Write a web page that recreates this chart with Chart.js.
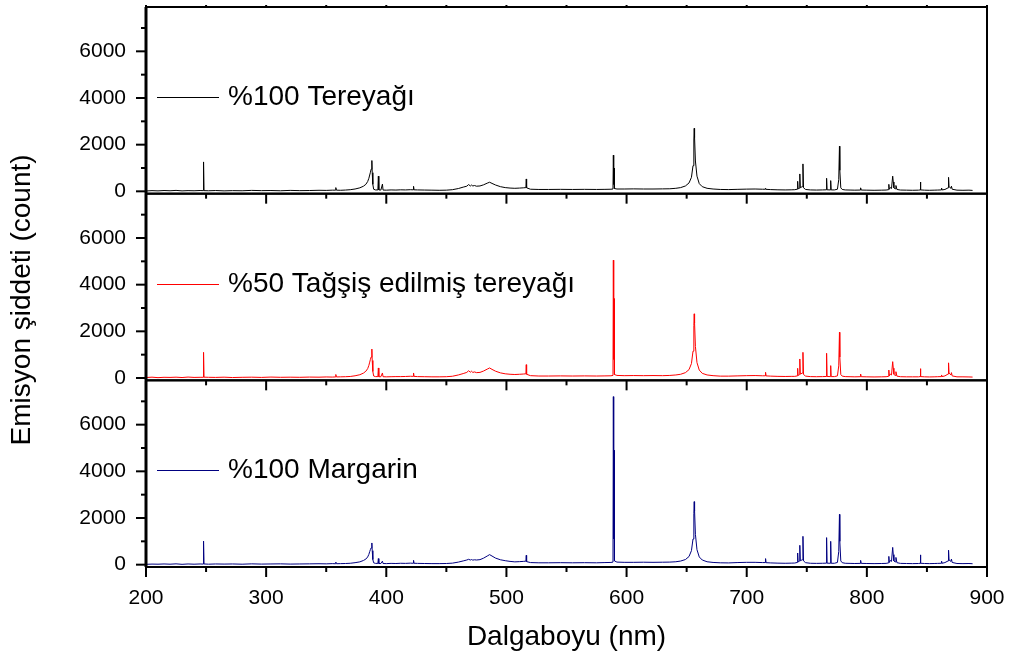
<!DOCTYPE html>
<html>
<head>
<meta charset="utf-8">
<script src="https://cdn.jsdelivr.net/npm/chart.js@4"></script>
<style>
  body { margin: 0; background: #fff; }
  #kutu { width: 1013px; height: 660px; }
</style>
</head>
<body>
<div id="kutu"><canvas id="myChart"></canvas></div>
<script>
// dalgaboyu (nm)
var dalgaboyu = [
  200, 205, 210, 215, 220, 225, 230, 235, 240, 245, 247.5, 247.9, 248.3,
  252, 258, 265, 272, 280, 288, 296, 304, 312, 320, 328, 336, 344, 350, 355,
  357.5, 358, 358.5, 362, 366, 370, 374, 378, 381, 383, 384.5, 385.5, 386.2, 386.8, 387.4, 388.0, 388.3, 388.8,
  389.5, 391, 393.0, 393.4, 393.8, 395.5, 396.8, 397.3, 400, 404, 408, 412, 416, 420, 422.3, 422.7,
  423.1, 426, 432, 438, 444, 450, 455, 460, 464, 467, 468.5, 470, 471, 472, 473.5, 475, 478, 481, 484, 486, 488, 491,
  495, 499, 503, 507, 511, 514, 516.2, 516.5, 516.8, 520, 527,
  535, 545, 555, 565, 575, 582, 587, 588.7, 589.0, 589.3, 589.6, 589.9, 592,
  598, 606, 614, 622, 630, 636, 641, 645, 649, 652, 654, 655.3, 656.0, 656.3, 656.6, 657.3, 658.6, 660.5, 663, 667,
  672, 678, 685, 692, 700, 707, 713, 715.3, 715.7, 716.1, 720, 726, 732, 737,
  740, 742.0, 742.4, 742.8, 743.8, 744.2, 744.6, 746.3, 746.8, 747.3, 749,
  753, 758, 763, 766.1, 766.5, 766.9, 769.5, 769.9, 770.3, 773, 775.5, 776.6, 777.2, 777.5, 778.3,
  779.5, 782, 786, 790, 794.3, 794.8, 795.3, 800, 806, 812, 816, 817.9, 818.3, 818.7, 819.5, 820.5, 821.5, 822.0, 822.5, 823.5, 824.2,
  825, 828, 833, 838, 843, 844.3, 844.6, 844.9, 848, 852, 856, 859, 861.8, 862.2, 862.6, 865, 867.6, 868.0, 868.4, 870.0, 870.4, 871, 875,
  880, 885, 888
];

// %100 Tereyağı
var tereyagi = [
  15, 30, 20, 35, 25, 40, 20, 30, 25, 35, 30, 1260, 30,
  25, 35, 20, 30, 25, 40, 30, 35, 25, 40, 30, 35, 45, 40, 50,
  50, 160, 50, 45, 55, 70, 100, 150, 220, 300, 420, 560, 700, 820, 950, 1320, 800, 300,
  90, 60, 60, 650, 60, 55, 310, 55, 50, 60, 55, 65, 60, 70, 65, 215,
  65, 60, 55, 50, 45, 50, 70, 120, 180, 220, 290, 230, 270, 230, 250, 220, 230, 280, 350, 390, 340, 270,
  200, 160, 140, 130, 140, 150, 160, 530, 150, 90, 80,
  80, 85, 80, 85, 80, 85, 90, 100, 1550, 300, 1000, 120, 100,
  100, 105, 100, 100, 105, 110, 130, 160, 230, 360, 600, 1100, 2200, 2700, 2300, 1300, 650, 330, 200, 130,
  100, 80, 75, 85, 95, 100, 90, 90, 130, 85, 75, 65, 60, 65,
  70, 90, 430, 110, 130, 745, 160, 200, 1175, 150, 80,
  60, 55, 60, 65, 560, 65, 60, 460, 60, 60, 90, 500, 1935, 900, 150,
  80, 60, 55, 50, 55, 150, 55, 50, 45, 50, 55, 70, 300, 90, 160, 120, 650, 400, 150, 110, 250,
  80, 55, 50, 45, 50, 60, 400, 60, 50, 45, 50, 55, 60, 140, 60, 80, 150, 600, 200, 130, 220, 90, 50,
  45, 50, 40
];

// %50 Tağşiş edilmiş tereyağı
var tagsis = [
  20, 35, 15, 30, 25, 35, 20, 40, 25, 30, 30, 1100, 35,
  30, 25, 35, 20, 30, 35, 25, 40, 30, 35, 30, 40, 35, 45, 40,
  45, 150, 45, 50, 55, 65, 95, 140, 210, 290, 400, 540, 680, 800, 900, 1240, 750, 280,
  85, 60, 60, 430, 55, 55, 215, 55, 50, 55, 60, 60, 65, 75, 70, 215,
  70, 60, 55, 50, 50, 55, 75, 130, 190, 240, 310, 250, 290, 240, 260, 230, 240, 300, 380, 430, 370, 290,
  220, 180, 160, 150, 160, 170, 180, 570, 160, 100, 85,
  85, 90, 85, 90, 85, 90, 95, 110, 5050, 800, 3400, 150, 110,
  100, 105, 100, 105, 100, 110, 130, 160, 230, 360, 620, 1150, 2250, 2750, 2350, 1350, 660, 340, 200, 130,
  100, 80, 80, 90, 100, 105, 95, 95, 245, 90, 80, 70, 65, 70,
  70, 90, 415, 110, 140, 815, 170, 210, 1100, 150, 80,
  60, 55, 60, 65, 1060, 65, 60, 530, 60, 60, 90, 520, 1960, 900, 150,
  80, 60, 55, 50, 55, 170, 55, 50, 45, 50, 55, 70, 340, 90, 170, 130, 700, 420, 160, 110, 270,
  80, 55, 50, 50, 50, 60, 400, 60, 50, 45, 50, 55, 60, 130, 60, 90, 170, 650, 210, 130, 230, 90, 50,
  50, 45, 40
];

// %100 Margarin
var margarin = [
  15, 25, 20, 30, 20, 35, 15, 30, 20, 30, 25, 1010, 30,
  20, 30, 25, 30, 20, 35, 25, 30, 35, 25, 30, 35, 40, 35, 45,
  40, 110, 40, 45, 50, 60, 85, 120, 180, 240, 330, 440, 560, 650, 720, 930, 600, 220,
  80, 55, 55, 260, 50, 50, 150, 50, 45, 55, 50, 60, 55, 65, 60, 185,
  60, 55, 50, 45, 45, 50, 65, 110, 160, 200, 230, 200, 220, 195, 210, 200, 215, 280, 370, 430, 370, 280,
  210, 170, 140, 120, 130, 140, 150, 400, 130, 90, 80,
  80, 85, 80, 85, 80, 90, 95, 110, 7200, 1100, 4900, 160, 110,
  100, 100, 105, 100, 105, 110, 125, 155, 220, 350, 600, 1100, 2200, 2700, 2300, 1300, 640, 330, 200, 125,
  95, 80, 75, 90, 100, 100, 90, 90, 260, 85, 75, 65, 60, 65,
  70, 95, 500, 120, 150, 830, 170, 210, 1215, 160, 85,
  60, 55, 60, 65, 1160, 65, 60, 1000, 60, 60, 95, 560, 2155, 1000, 160,
  85, 60, 55, 50, 55, 185, 55, 50, 45, 50, 55, 75, 355, 95, 180, 140, 740, 430, 160, 120, 310,
  85, 55, 50, 45, 50, 60, 420, 60, 50, 45, 50, 55, 60, 150, 60, 90, 160, 620, 200, 140, 240, 95, 50,
  45, 50, 40
];

var xEtiketler = [200, 300, 400, 500, 600, 700, 800, 900];
var yEtiketler = [0, 2000, 4000, 6000];
var seriAdlari = ['%100 Tereyağı', '%50 Tağşiş edilmiş tereyağı', '%100 Margarin'];
var renkler = ['#000000', '#ff0000', '#000080'];
var paneller = ['y1', 'y2', 'y3'];

var yazi = '"Liberation Sans", Arial, sans-serif';

function noktalar(seri) {
  return dalgaboyu.map(function (x, i) { return { x: x, y: seri[i] }; });
}

function bosluksuz(s) {
  s.paddingTop = 0;
  s.paddingBottom = 0;
  s.paddingLeft = 0;
  s.paddingRight = 0;
}

function yEkseni(agirlik) {
  return {
    type: 'linear',
    position: 'left',
    stack: 'panel',
    stackWeight: 1,
    weight: agirlik,
    min: -100,
    max: 7900,
    grid: { display: false },
    border: { display: false },
    afterBuildTicks: function (s) {
      s.ticks = yEtiketler.map(function (v) { return { value: v }; });
    },
    afterFit: function (s) { s.width = 146; bosluksuz(s); },
    ticks: {
      padding: 12,
      color: '#000',
      font: { family: yazi, size: 21 },
      callback: function (v) { return String(v); }
    }
  };
}

// panel cerceveleri, kucuk tikler, lejant ve y basligi
var cerceve = {
  id: 'cerceve',
  afterDraw: function (chart) {
    var ctx = chart.ctx;
    var ca = chart.chartArea;
    var xs = chart.scales.x;
    ctx.save();

    function cizgi(x1, y1, x2, y2, w) {
      ctx.lineWidth = w;
      ctx.beginPath();
      ctx.moveTo(x1, y1);
      ctx.lineTo(x2, y2);
      ctx.stroke();
    }

    paneller.forEach(function (id, i) {
      var s = chart.scales[id];
      ctx.strokeStyle = '#000';
      ctx.lineWidth = 2;
      ctx.strokeRect(ca.left, s.top, ca.right - ca.left, s.bottom - s.top);
      cizgi(ca.left, s.top, ca.left, s.bottom, 3);

      for (var v = 0; v <= 7000; v += 1000) {
        var y = s.getPixelForValue(v);
        var u = v % 2000 === 0 ? 10 : 5;
        cizgi(ca.left - u, y, ca.left, y, 2);
      }
      for (var w = 200; w <= 900; w += 50) {
        var x = xs.getPixelForValue(w);
        var u2 = w % 100 === 0 ? 10 : 5;
        cizgi(x, s.bottom, x, s.bottom + u2, 2);
        if (i === 0) cizgi(x, s.top, x, s.top - 2, 2);
      }
    });

    // lejant
    paneller.forEach(function (id, i) {
      var s = chart.scales[id];
      var ly = Math.round(s.getPixelForValue(4050)) + 0.5;
      ctx.strokeStyle = renkler[i];
      cizgi(ca.left + 11, ly, ca.left + 73, ly, 1);
      ctx.fillStyle = '#000';
      ctx.font = '28px ' + yazi;
      ctx.textBaseline = 'middle';
      ctx.textAlign = 'left';
      ctx.fillText(seriAdlari[i], ca.left + 82, ly);
    });

    // y basligi
    ctx.translate(22, ca.top + (ca.bottom - ca.top) * 0.523);
    ctx.rotate(-Math.PI / 2);
    ctx.fillStyle = '#000';
    ctx.font = '28px ' + yazi;
    ctx.textAlign = 'center';
    ctx.textBaseline = 'middle';
    ctx.fillText('Emisyon şiddeti (count)', 0, 0);
    ctx.restore();
  }
};

var ctx = document.getElementById('myChart').getContext('2d');

var myChart = new Chart(ctx, {
  type: 'line',
  data: {
    datasets: [
      { label: seriAdlari[0], data: noktalar(tereyagi), yAxisID: 'y1', borderColor: renkler[0] },
      { label: seriAdlari[1], data: noktalar(tagsis), yAxisID: 'y2', borderColor: renkler[1] },
      { label: seriAdlari[2], data: noktalar(margarin), yAxisID: 'y3', borderColor: renkler[2] }
    ]
  },
  options: {
    responsive: true,
    maintainAspectRatio: false,
    animation: false,
    layout: { padding: { top: 7, right: 26, left: 0, bottom: 0 } },
    elements: {
      point: { radius: 0 },
      line: { borderWidth: 1, tension: 0 }
    },
    plugins: {
      legend: { display: false },
      tooltip: { enabled: false }
    },
    scales: {
      x: {
        type: 'linear',
        min: 200,
        max: 900,
        grid: { display: false },
        border: { display: false },
        afterBuildTicks: function (s) {
          s.ticks = xEtiketler.map(function (v) { return { value: v }; });
        },
        afterFit: function (s) { s.height = 93; bosluksuz(s); },
        ticks: {
          padding: 11,
          color: '#000',
          font: { family: yazi, size: 21 },
          maxRotation: 0,
          callback: function (v) { return String(v); }
        },
        title: {
          display: true,
          text: 'Dalgaboyu (nm)',
          color: '#000',
          font: { family: yazi, size: 28 },
          padding: { top: 4, bottom: 6 }
        }
      },
      y1: yEkseni(3),
      y2: yEkseni(2),
      y3: yEkseni(1)
    }
  },
  plugins: [cerceve]
});
</script>
</body>
</html>
